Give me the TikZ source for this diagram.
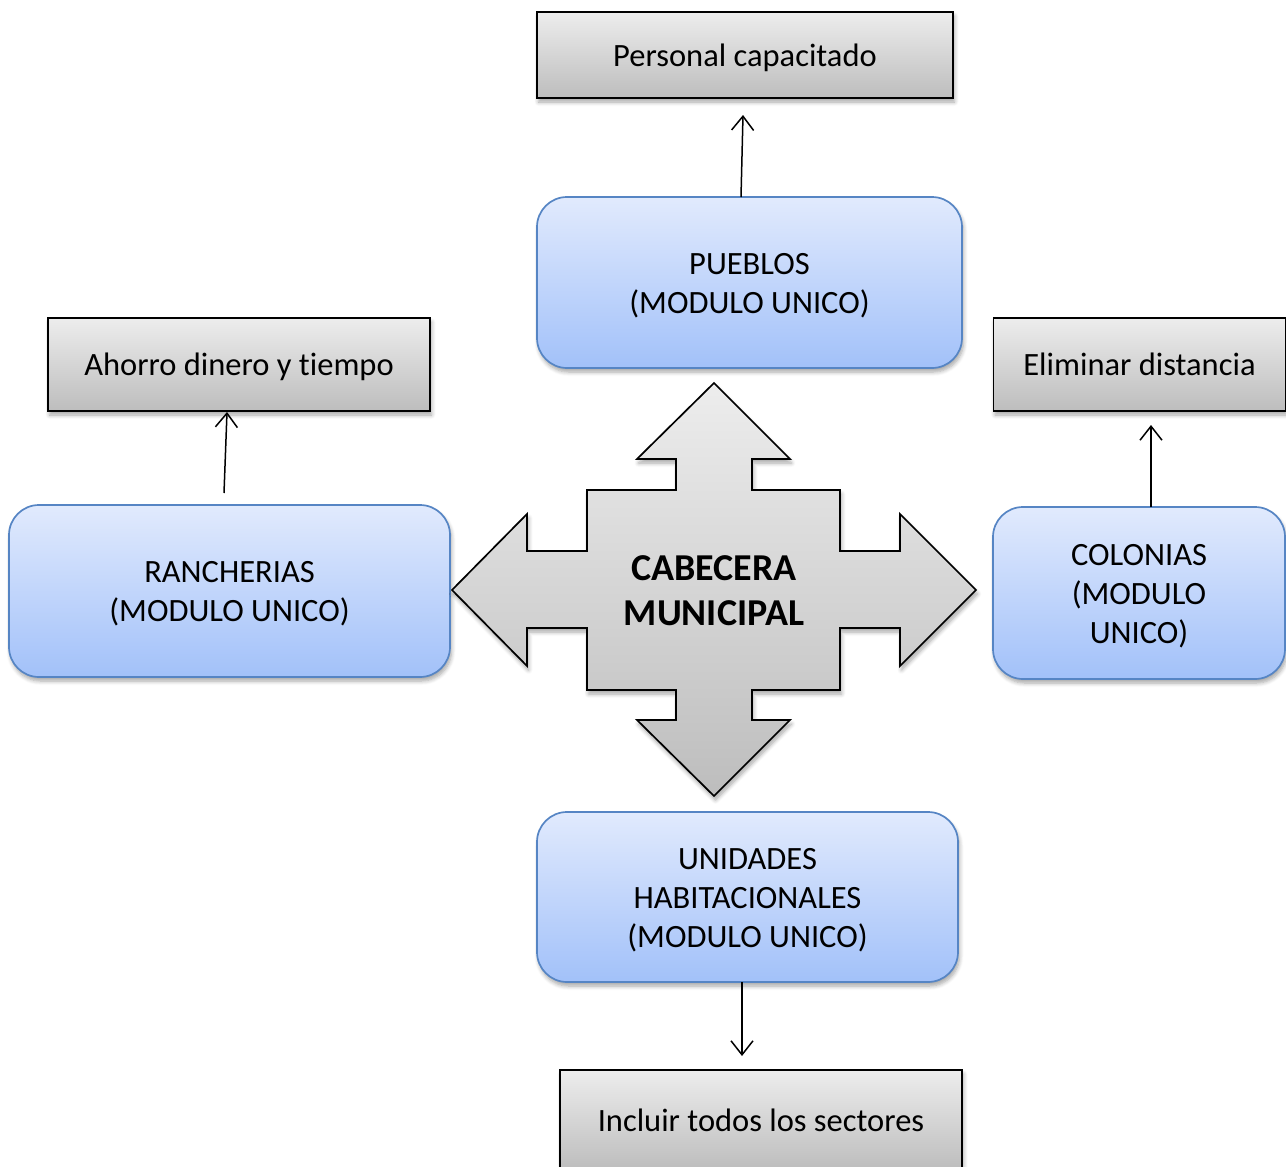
\documentclass[tikz,border=0pt]{standalone}
\usepackage{fontspec}
\setmainfont{Carlito}[Ligatures=NoCommon]
\usetikzlibrary{arrows.meta,shadows.blur}

\definecolor{grayTop}{HTML}{EDEDED}
\definecolor{grayBot}{HTML}{BDBDBD}
\definecolor{blueTop}{HTML}{E1EAFD}
\definecolor{blueBot}{HTML}{A2C1F9}
\definecolor{blueEdge}{HTML}{5685C4}

% invisible strut that lowers the first line inside the rounded boxes
\newcommand\firstline{\rule{0pt}{27pt}}

\tikzset{
  softshadow/.style={blur shadow={shadow xshift=1.5pt, shadow yshift=-4pt,
      shadow blur steps=6, shadow blur radius=4pt, shadow opacity=35}},
  graybox/.style={rectangle, draw=black, line width=1.7pt,
      top color=grayTop, bottom color=grayBot, softshadow,
      inner sep=0pt, text height=22pt, text depth=0pt,
      font=\fontsize{32.5}{39}\selectfont},
  bluebox/.style={rectangle, rounded corners=30pt, draw=blueEdge, line width=1.7pt,
      top color=blueTop, bottom color=blueBot, softshadow,
      inner sep=0pt, align=center,
      font=\fontsize{32.5}{39}\selectfont},
  crossarrow/.style={draw=black, line width=1.7pt, line join=miter,
      top color=grayTop, bottom color=grayBot, softshadow},
  link/.style={draw=black, line width=1.5pt,
      -{Straight Barb[length=14pt,width=22pt]}},
}

\begin{document}
\begin{tikzpicture}[x=1pt, y=-1pt]
\useasboundingbox (0,0) rectangle (1286,1167);
\clip (0,0) rectangle (1286,1167);

% outcome boxes
\node[graybox, minimum width=416, minimum height=86] (personal) at (745,55) {Personal capacitado};
\node[graybox, minimum width=382, minimum height=93] (ahorro) at (239,364.5) {Ahorro dinero y tiempo};
\node[graybox, minimum width=292, minimum height=93] (eliminar) at (1139.5,364.5) {Eliminar distancia};
\node[graybox, minimum width=402, minimum height=100] (incluir) at (761,1120) {Incluir todos los sectores};

% localities
\node[bluebox, minimum width=425, minimum height=171] (pueblos) at (749.5,282.5) {\firstline PUEBLOS\\(MODULO UNICO)};
\node[bluebox, minimum width=441, minimum height=172] (rancherias) at (229.5,591) {\firstline RANCHERIAS\\(MODULO UNICO)};
\node[bluebox, minimum width=292, minimum height=172] (colonias) at (1139,593) {\firstline COLONIAS\\(MODULO\\UNICO)};
\node[bluebox, minimum width=421, minimum height=170] (unidades) at (747.5,897) {\firstline UNIDADES\\HABITACIONALES\\(MODULO UNICO)};

% four-way arrow around the municipal seat
\path[crossarrow]
  (714,383) -- (790,459) -- (752,459) -- (752,490) -- (840,490) -- (840,551)
  -- (900,551) -- (900,514) -- (976,590) -- (900,666) -- (900,628) -- (840,628)
  -- (840,690) -- (752,690) -- (752,720) -- (790,720) -- (714,796) -- (637,720)
  -- (676,720) -- (676,690) -- (587,690) -- (587,628) -- (527,628) -- (527,666)
  -- (452,590) -- (527,514) -- (527,551) -- (587,551) -- (587,490) -- (676,490)
  -- (676,459) -- (637,459) -- cycle;
\node[align=center, font=\bfseries\fontsize{38}{45}\selectfont] (cabecera) at (714,591) {CABECERA\\MUNICIPAL};

% connector end points
\coordinate (pueblosOut) at (741,197);
\coordinate (personalIn) at (743,115);
\coordinate (ranchOut) at (224,493);
\coordinate (ahorroIn) at (227,412);
\coordinate (coloniasOut) at (1151,507);
\coordinate (eliminarIn) at (1151,425);
\coordinate (unidadesOut) at (742,982);
\coordinate (incluirIn) at (742,1056);

\draw[link] (pueblosOut) -- (personalIn);
\draw[link] (ranchOut) -- (ahorroIn);
\draw[link] (coloniasOut) -- (eliminarIn);
\draw[link] (unidadesOut) -- (incluirIn);
\end{tikzpicture}
\end{document}
